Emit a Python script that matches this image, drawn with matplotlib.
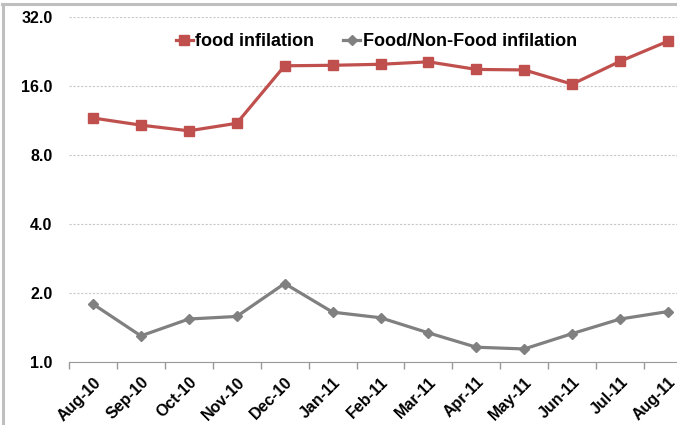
import matplotlib.pyplot as plt
from matplotlib.lines import Line2D
from matplotlib.ticker import FixedLocator, NullFormatter

# Monthly series, Aug-10 .. Aug-11
months = ["Aug-10", "Sep-10", "Oct-10", "Nov-10", "Dec-10", "Jan-11", "Feb-11",
          "Mar-11", "Apr-11", "May-11", "Jun-11", "Jul-11", "Aug-11"]
food_inflation = [11.6, 10.8, 10.2, 11.0, 19.6, 19.7, 19.9,
                  20.4, 18.9, 18.8, 16.3, 20.5, 25.1]
food_nonfood_ratio = [1.79, 1.30, 1.54, 1.58, 2.20, 1.65, 1.56,
                      1.34, 1.16, 1.14, 1.33, 1.54, 1.66]
y_ticks = [1, 2, 4, 8, 16, 32]

plt.rcParams['font.family'] = ['Liberation Sans', 'DejaVu Sans']

fig = plt.figure(figsize=(6.77, 4.25), dpi=100)
ax = fig.add_axes([69 / 677, 63 / 425, 623 / 677, 345 / 425])

x = range(len(months))
ax.plot(x, food_inflation, color='#C0504D', lw=2.3, marker='s', ms=7,
        label='food infilation')
ax.plot(x, food_nonfood_ratio, color='#808080', lw=2.3, marker='D', ms=5,
        label='Food/Non-Food infilation')

ax.set_yscale('log', base=2)
ax.set_ylim(1, 32)
ax.set_xlim(-0.5, len(months) - 0.5)
ax.yaxis.set_major_locator(FixedLocator(y_ticks))
ax.yaxis.set_minor_locator(FixedLocator([]))
ax.set_yticklabels([f"{v:.1f}" for v in y_ticks], fontsize=11.5, fontweight='bold')
ax.yaxis.grid(True, color='#c8c8c8', linestyle=(0, (2, 1.5)), lw=0.8)
ax.tick_params(axis='y', length=0, pad=12)

ax.set_xticks(list(x))
ax.set_xticklabels(months, rotation=45, ha='right', rotation_mode='anchor',
                   fontsize=11.5, fontweight='bold')
ax.set_xticks([i - 0.5 for i in range(len(months) + 1)], minor=True)
ax.xaxis.set_minor_formatter(NullFormatter())
ax.tick_params(axis='x', which='major', length=0, pad=9)
ax.tick_params(axis='x', which='minor', length=5, color='#999999', width=1)

for side in ['top', 'right', 'left']:
    ax.spines[side].set_visible(False)
ax.spines['bottom'].set_color('#999999')
ax.set_axisbelow(True)

ax.legend(loc='upper left', bbox_to_anchor=(0.145, 1.0), ncol=2, frameon=False,
          prop={'weight': 'bold', 'size': 13}, handlelength=0.95,
          handletextpad=0.15, columnspacing=1.6)

# grey frame edges around the chart area
fig.add_artist(Line2D([2.5 / 677, 2.5 / 677], [0, 1 - 4 / 425], transform=fig.transFigure,
                      color='#bfbfbf', lw=2.2))
fig.add_artist(Line2D([2 / 677, 1], [1 - 4 / 425, 1 - 4 / 425], transform=fig.transFigure,
                      color='#bfbfbf', lw=2.2))

fig.savefig('out.png', dpi=100)
